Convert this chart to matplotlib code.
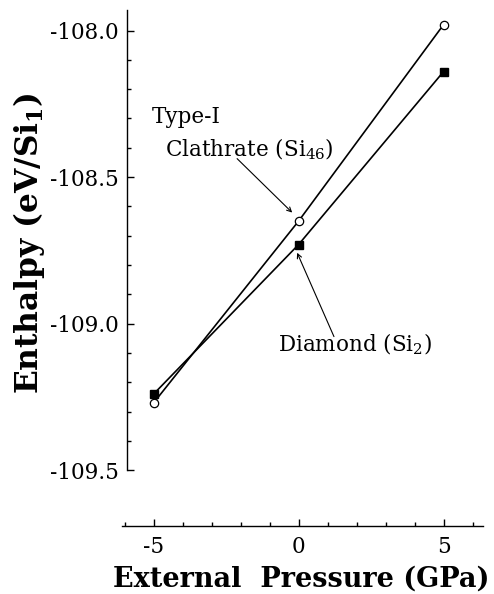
import matplotlib
matplotlib.use("Agg")
import matplotlib.pyplot as plt
from matplotlib.ticker import FixedLocator, FixedFormatter

plt.rcParams['font.family'] = ['DejaVu Serif']
plt.rcParams['mathtext.fontset'] = 'dejavuserif'
plt.rcParams['axes.unicode_minus'] = False

pressure = [-5, 0, 5]
clathrate = [-109.27, -108.65, -107.98]
diamond = [-109.24, -108.73, -108.14]

yticks = [-108.0, -108.5, -109.0, -109.5]
ytick_labels = ["-108.0", "-108.5", "-109.0", "-109.5"]
yminor = [-109.4, -109.3, -109.2, -109.1, -108.9, -108.8, -108.7, -108.6,
          -108.4, -108.3, -108.2, -108.1]
xticks = [-5, 0, 5]
xtick_labels = ["-5", "0", "5"]
xminor = [-6, -4, -3, -2, -1, 1, 2, 3, 4, 6]

fig = plt.figure(figsize=(4.94, 5.94), dpi=100)
ax = fig.add_axes([122/494, 1-526/594, (483-122)/494, (526-10)/594])

ax.plot(pressure, clathrate, color='black', lw=1.2, marker='o', ms=6,
        mfc='white', mec='black', mew=0.9, zorder=3)
ax.plot(pressure, diamond, color='black', lw=1.2, marker='s', ms=6,
        mfc='black', mec='black', zorder=3)

ax.set_xlim(-6.09, 6.36)
ax.set_ylim(-109.69, -107.93)

for s in ['top', 'right']:
    ax.spines[s].set_visible(False)
ax.spines['left'].set_position(('data', -5.91))
ax.spines['left'].set_bounds(-109.5, -107.93)
ax.spines['left'].set_linewidth(1.0)
ax.spines['bottom'].set_linewidth(1.0)

ax.yaxis.set_major_locator(FixedLocator(yticks))
ax.yaxis.set_major_formatter(FixedFormatter(ytick_labels))
ax.yaxis.set_minor_locator(FixedLocator(yminor))
ax.xaxis.set_major_locator(FixedLocator(xticks))
ax.xaxis.set_major_formatter(FixedFormatter(xtick_labels))
ax.xaxis.set_minor_locator(FixedLocator(xminor))

ax.tick_params(axis='both', which='major', direction='in', length=5, width=1.0,
               labelsize=15.5)
ax.tick_params(axis='both', which='minor', direction='in', length=3, width=1.0)
ax.tick_params(axis='y', which='major', pad=6)
ax.tick_params(axis='x', which='major', pad=7)

fig.text(29/494, 1-243.5/594, r"Enthalpy (eV/Si$_\mathbf{1}$)", rotation=90,
         ha='center', va='center', fontsize=22.5, fontweight='bold')
fig.text(301/494, 1-587/594, "External  Pressure (GPa)", ha='center',
         va='baseline', fontsize=19.5, fontweight='bold')

ax.text(-5.05, -108.314, "Type-I", fontsize=15.5, ha='left', va='baseline')
ax.text(-4.60, -108.43, r"Clathrate (Si$_{46}$)", fontsize=15.5, ha='left',
        va='baseline')
ax.text(-0.71, -109.096, r"Diamond (Si$_{2}$)", fontsize=15.5, ha='left',
        va='baseline')

ax.annotate("", xy=(-0.22, -108.621), xytext=(-2.12, -108.437),
            arrowprops=dict(arrowstyle='->', lw=0.8, color='black',
                            shrinkA=0, shrinkB=0, mutation_scale=8))
ax.annotate("", xy=(-0.05, -108.758), xytext=(1.22, -109.044),
            arrowprops=dict(arrowstyle='->', lw=0.8, color='black',
                            shrinkA=0, shrinkB=0, mutation_scale=8))

fig.savefig("out.png", dpi=100)
